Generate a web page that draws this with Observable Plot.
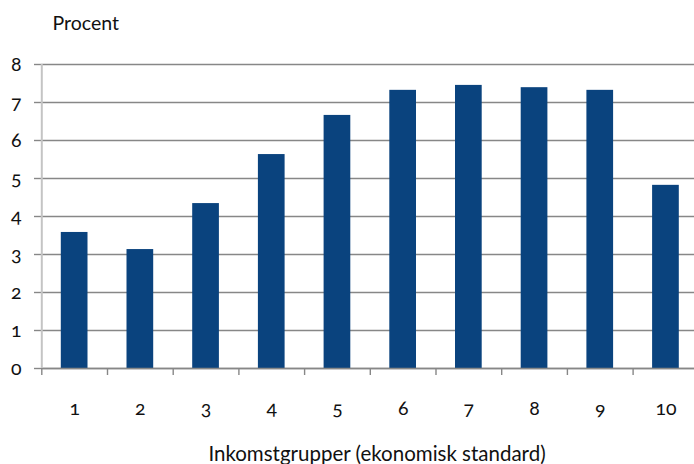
<!DOCTYPE html>
<html>
<head>
<meta charset="utf-8">
<script src="https://cdn.jsdelivr.net/npm/d3@7"></script>
<script src="https://cdn.jsdelivr.net/npm/@observablehq/plot@0.6"></script>
<style>
  html, body { margin: 0; padding: 0; background: #fff; }
  #chart svg { display: block; font-family: Lato, "Open Sans", sans-serif; font-variant-numeric: oldstyle-nums; font-feature-settings: "onum" 1; }
</style>
</head>
<body>
<div id="chart"></div>
<script>
// Income groups (deciles of economic standard) and share in percent
const groups = [1, 2, 3, 4, 5, 6, 7, 8, 9, 10];
const groupLabels = ["1", "2", "3", "4", "5", "6", "7", "8", "9", "10"];
const percent = [3.58, 3.13, 4.34, 5.63, 6.66, 7.32, 7.45, 7.39, 7.32, 4.82];
const yTicks = [0, 1, 2, 3, 4, 5, 6, 7, 8];
const yTitle = "Procent";
const xTitle = "Inkomstgrupper (ekonomisk standard)";

const rows = groups.map((g, i) => ({group: g, label: groupLabels[i], value: percent[i]}));
const boundaries = d3.range(groups.length + 1).map(i => groups[0] - 0.5 + i);

const barColor = "#0a437e";
const gridColor = "#878787";
const textColor = "#111";

const chart = Plot.plot({
  width: 694,
  height: 464,
  marginTop: 64,
  marginBottom: 96,
  marginLeft: 41,
  marginRight: 0,
  style: {fontSize: "19px", color: textColor, background: "#fff"},
  x: {domain: [0.5, 10.5], range: [41.3, 698.3]},
  y: {domain: [0, 8]},
  marks: [
    Plot.gridY(yTicks, {stroke: gridColor, strokeOpacity: 1, strokeWidth: 1.4}),
    Plot.axisY(yTicks, {
      tickSize: 7, stroke: gridColor, strokeWidth: 1.4, tickPadding: 13,
      tickFormat: d => String(d), fontSize: 19.5, fill: textColor, label: null
    }),
    Plot.rectY(rows, {x1: d => d.group - 0.5, x2: d => d.group + 0.5, y: "value", fill: barColor, insetLeft: 19.5, insetRight: 19.5}),
    Plot.ruleY([0], {stroke: gridColor, strokeWidth: 1.4}),
    Plot.ruleX([0.5], {y1: 0, y2: 8, stroke: "#c4c4c4", strokeWidth: 2}),
    Plot.axisX(boundaries, {tickSize: 7, stroke: gridColor, strokeWidth: 1.4, tickFormat: () => "", label: null}),
    Plot.axisX(groups, {
      tickSize: 0, tickPadding: 33, fontSize: 19.5, fill: textColor,
      tickFormat: d => groupLabels[groups.indexOf(d)], label: null
    }),
    Plot.text([yTitle], {frameAnchor: "top-left", dx: 11, dy: -48, textAnchor: "start", fontSize: 19.5, fill: textColor}),
    Plot.text([xTitle], {frameAnchor: "bottom", dx: 9, dy: 92, fontSize: 20.5, fill: textColor})
  ]
});
document.getElementById("chart").append(chart);
</script>
</body>
</html>
